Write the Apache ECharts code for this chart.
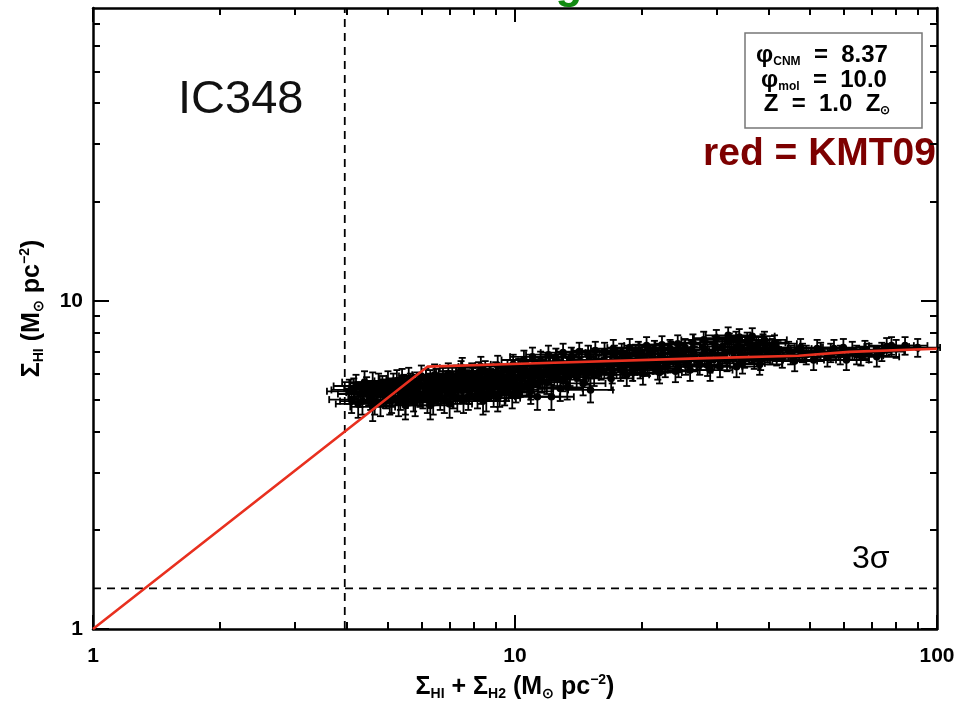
<!DOCTYPE html>
<html>
<head>
<meta charset="utf-8">
<script src="https://cdn.jsdelivr.net/npm/echarts@6/dist/echarts.min.js"></script>
<style>
html,body{margin:0;padding:0;background:#fff;}
#chart{width:960px;height:706px;}
</style>
</head>
<body>
<div id="chart"></div>
<script>
// ---------- data ----------
const X_MIN = 1, X_MAX = 100;
const Y_MIN = 1, Y_MAX = 78;
const X_MAJOR = [1, 10, 100];
const X_MINOR = [2, 3, 4, 5, 6, 7, 8, 9, 20, 30, 40, 50, 60, 70, 80, 90];
const Y_MAJOR = [1, 10];
const Y_MINOR = [2, 3, 4, 5, 6, 7, 8, 9, 20, 30, 40, 50, 60, 70];
const X_LABELS = [1, 10, 100];
const Y_LABELS = [1, 10];

// observed points (Σ_HI+Σ_H2, Σ_HI)
const scatterPoints = [
  [4.05,5.3],[4.1,5.0],[4.2,5.5],[4.3,5.2],[4.35,4.95],[4.45,5.4],[4.55,5.1],[4.6,5.6],[4.7,5.25],[4.8,4.9],
  [4.85,5.45],[4.95,5.15],[5.0,5.65],[5.05,4.95],[5.1,5.0],[5.2,5.35],[5.25,5.7],
  [5.35,5.1],[5.45,5.5],[5.5,4.95],[5.6,5.8],[5.7,5.3],[5.75,5.05],[5.85,5.6],[5.95,5.2],[6.0,5.9],
  [6.1,5.45],[6.2,5.0],[6.3,5.7],[6.35,5.25],[6.45,5.95],[6.55,5.5],[6.65,5.1],[6.75,5.8],[6.85,5.35],[6.95,6.0],
  [7.05,5.6],[7.15,5.15],[7.25,5.9],[7.35,5.4],[7.45,6.1],[7.55,5.0],[7.7,5.7],[7.8,5.3],[7.9,6.0],[8.0,5.55],
  [8.15,5.15],[8.25,5.85],[8.4,4.95],[8.5,6.1],[8.6,5.45],[8.75,5.75],[8.9,5.2],[9.0,6.05],[9.15,5.5],[9.2,5.2],
  [9.3,5.8],[9.45,5.25],[9.6,6.15],[9.75,5.6],[9.9,5.9],[10.05,5.35],[10.2,6.2],
  [10.4,5.8],[10.6,6.05],[10.8,5.6],[11.0,6.3],[11.2,5.9],[11.3,5.1],[11.4,6.15],[11.6,5.7],[11.8,6.4],[12.0,6.0],
  [12.2,5.1],[12.3,6.25],[12.6,5.85],[12.9,6.45],[13.2,6.1],[13.3,5.45],[13.5,5.95],[13.8,6.35],[14.1,6.15],[14.4,6.5],
  [14.8,6.0],[15.1,5.35],[15.2,6.3],[15.6,6.55],
  [16.0,6.2],[16.5,6.45],[17.0,6.05],[17.5,6.6],[18.0,6.3],[18.5,6.75],[19.0,6.15],[19.5,6.5],[20.0,6.85],[20.6,6.35],
  [21.2,6.65],[21.8,6.2],[22.4,6.9],[23.0,6.5],[23.7,6.75],[24.4,6.3],[25.1,6.95],[25.8,6.55],[26.6,6.8],
  [27.4,6.4],[28.2,7.1],[29.0,6.6],[29.8,7.35],[30.6,6.3],[31.4,6.9],[32.2,7.5],[33.0,6.7],[33.8,7.2],[34.6,6.45],
  [35.5,7.55],[36.4,6.95],[37.3,7.3],[38.2,6.6],[39.2,7.15],[40.2,6.85],[41.2,7.4],
  [43,6.7],[44.5,7.05],[46,6.55],[47.5,7.2],[49,6.85],[51,6.6],[53,7.0],[55,6.75],[57,7.15],[59,6.85],
  [61,6.6],[63,7.05],[66,6.8],[69,6.95],[72,6.75],[76,7.25],[80,7.15],[84,7.3],[90,7.2],
  // second layer
  [4.15,5.35],[4.25,4.85],[4.4,5.65],[4.5,5.25],[4.65,4.95],[4.75,5.55],[4.9,5.3],[5.15,5.55],[5.3,4.9],[5.4,5.75],
  [5.55,5.25],[5.65,5.55],[5.8,4.9],[5.9,5.45],[6.05,5.15],[6.15,5.75],[6.25,5.4],[6.4,4.95],[6.5,5.75],[6.6,5.3],
  [6.7,5.55],[6.8,5.0],[6.9,5.65],
  [7.0,5.25],[7.1,5.85],[7.2,5.45],[7.3,5.05],[7.4,5.7],[7.5,5.35],[7.6,5.85],[7.75,5.1],[7.85,5.5],[7.95,5.8],
  [8.1,5.4],[8.2,6.05],[8.3,5.3],[8.45,5.65],[8.55,5.05],[8.7,5.95],[8.8,5.4],[8.95,5.7],[9.1,5.05],[9.25,5.95],
  [9.4,5.6],[9.55,5.4],[9.7,5.95],[9.85,5.15],[10.0,5.7],[10.15,5.5],
  [10.3,5.55],[10.5,6.3],[10.7,5.9],[10.9,5.45],[11.1,6.1],[11.5,5.85],[11.7,6.05],[11.9,5.65],[12.1,6.35],[12.4,5.95],
  [12.7,6.15],[13.0,5.75],[13.4,6.25],[13.7,6.5],[14.0,5.85],[14.3,6.3],[14.6,6.1],[15.0,6.6],[15.4,5.95],[15.8,6.35],
  [16.2,6.6],[16.8,6.3],[17.2,6.85],[17.8,6.15],[18.2,6.55],[18.8,6.4],[19.3,6.9],[19.8,6.25],[20.3,6.6],[20.9,6.9],
  [21.5,6.45],[22.1,6.75],[22.7,6.3],[23.4,7.05],[24.0,6.55],[24.7,6.85],[25.4,6.4],[26.2,7.1],[26.9,6.6],
  [27.8,6.85],[28.6,6.35],[29.4,6.95],[30.2,6.7],[31.0,7.25],[31.8,6.55],[32.6,7.05],[33.4,7.6],[34.2,6.9],[35.0,6.7],
  [36.0,7.35],[36.9,6.65],[37.8,7.1],[38.7,7.45],[39.7,6.95],[40.7,7.2],[41.7,6.8],
  [42,7.1],[45,6.85],[48,6.95],[52,7.15],[56,6.95],[60,7.2],[64.5,6.85],[67.5,7.1],[74,7.0],[78,7.3],
  // third layer (blob edges)
  [7.5,6.25],[8.3,6.3],[9.1,6.35],[9.9,6.4],
  [4.6,4.75],[5.5,4.8],[6.3,4.8],[7.0,4.85],
  [10.5,6.6],[11.0,6.75],[11.5,6.55],[12.0,6.85],[12.5,6.7],[13.0,6.95],[13.6,6.75],[14.2,7.0],[14.9,6.85],[15.5,7.05],
  [10.9,5.3],[12.8,5.4],[14.5,5.6],
  [16.3,7.0],[17.1,7.15],[17.9,6.95],[18.7,7.2],[19.6,7.05],[20.5,7.3],[21.4,7.1],[22.3,7.35],[23.3,7.15],[24.3,7.4],
  [25.3,7.2],[26.4,7.45],
  [16.9,5.8],[18.4,5.95],[20.1,6.0],[22.0,6.05],[24.0,6.1],[26.0,6.15],
  [28.0,7.6],[30.0,7.7],[32.0,7.85],[34.0,7.75],[36.5,7.8],[39.0,7.6],[29.0,6.15],[33.5,6.3],[38.0,6.4]
];
const X_ERR_FACTOR = 1.13;   // multiplicative x uncertainty
const Y_ERR = 0.45;          // absolute y uncertainty

// KMT09 model curve
const modelX = [1, 6.2, 10.3, 28.5, 47, 62, 100];
const modelY = [1, 6.3, 6.43, 6.69, 6.8, 6.99, 7.14];

// thresholds
const vThreshX = 3.95;
const hThresh3Sigma = 1.33;

// ---------- chart ----------
const chart = echarts.init(document.getElementById('chart'), null, {renderer: 'canvas'});
const FONT = 'Liberation Sans, Arial, Helvetica, sans-serif';

function logAxis(pos, ticks, len, withLine, extra) {
  const isX = pos === 'bottom' || pos === 'top';
  return Object.assign({
    type: 'log', logBase: 10,
    min: isX ? X_MIN : Y_MIN, max: isX ? X_MAX : Y_MAX,
    position: pos,
    axisLine: {show: withLine, onZero: false, lineStyle: {color: '#000', width: 2.5}},
    axisTick: {show: true, inside: true, length: len, customValues: ticks, lineStyle: {color: '#000', width: 2}},
    axisLabel: {show: false},
    splitLine: {show: false},
    minorTick: {show: false}
  }, extra || {});
}

const subStyle = {fontSize: 14, fontWeight: 'bold', fontFamily: FONT, color: '#000', verticalAlign: 'bottom', lineHeight: 15};
const supStyle = {fontSize: 14, fontWeight: 'bold', fontFamily: FONT, color: '#000', verticalAlign: 'top', lineHeight: 15};
const mainStyle = {fontSize: 25, fontWeight: 'bold', fontFamily: FONT, color: '#000', lineHeight: 28};

const legendRich = {
  m: {fontSize: 24, fontWeight: 'bold', fontFamily: FONT, fill: '#000', lineHeight: 26},
  s: {fontSize: 12, fontWeight: 'bold', fontFamily: FONT, fill: '#000', verticalAlign: 'bottom', lineHeight: 12}
};

const option = {
  backgroundColor: '#fff',
  animation: false,
  grid: {left: 93, right: 23, top: 8, bottom: 75, containLabel: false},
  xAxis: [
    logAxis('bottom', X_MAJOR, 14, true, {
      axisLabel: {show: true, customValues: X_LABELS, margin: 17, fontSize: 21, fontWeight: 'bold', color: '#000', fontFamily: FONT},
      name: '{m|Σ}{s|HI}{m| + Σ}{s|H2}{m| (M}{s|⊙}{m| pc}{p|−2}{m|)}',
      nameLocation: 'middle', nameGap: 44,
      nameTextStyle: {rich: {m: mainStyle, s: subStyle, p: supStyle}}
    }),
    logAxis('bottom', X_MINOR, 7, false),
    logAxis('top', X_MAJOR, 14, true),
    logAxis('top', X_MINOR, 7, false)
  ],
  yAxis: [
    logAxis('left', Y_MAJOR, 16, true, {
      axisLabel: {show: true, customValues: Y_LABELS, margin: 10, fontSize: 21, fontWeight: 'bold', color: '#000', fontFamily: FONT},
      name: '{m|Σ}{s|HI}{m| (M}{s|⊙}{m| pc}{p|−2}{m|)}',
      nameLocation: 'middle', nameGap: 47, nameRotate: 90,
      nameTextStyle: {rich: {m: mainStyle, s: subStyle, p: supStyle}, padding: [0, 0, 0, 20]}
    }),
    logAxis('left', Y_MINOR, 7, false),
    logAxis('right', Y_MAJOR, 16, true),
    logAxis('right', Y_MINOR, 7, false)
  ],
  series: [
    {
      type: 'line', name: 'vthresh', xAxisIndex: 0, yAxisIndex: 0,
      data: [[vThreshX, Y_MIN], [vThreshX, Y_MAX]],
      showSymbol: false, symbol: 'none', silent: true,
      lineStyle: {color: '#000', width: 1.8, type: [8, 6]}, z: 3
    },
    {
      type: 'line', name: '3sigma', xAxisIndex: 0, yAxisIndex: 0,
      data: [[X_MIN, hThresh3Sigma], [X_MAX, hThresh3Sigma]],
      showSymbol: false, symbol: 'none', silent: true,
      lineStyle: {color: '#000', width: 1.8, type: [8, 6]}, z: 3
    },
    {
      type: 'custom', name: 'data', xAxisIndex: 0, yAxisIndex: 0,
      data: scatterPoints,
      encode: {x: 0, y: 1},
      z: 4,
      renderItem: function (params, api) {
        const x = api.value(0), y = api.value(1);
        const c = api.coord([x, y]);
        const xl = api.coord([x / X_ERR_FACTOR, y]);
        const xh = api.coord([x * X_ERR_FACTOR, y]);
        const yl = api.coord([x, y - Y_ERR]);
        const yh = api.coord([x, y + Y_ERR]);
        const cap = 3.5;
        const st = {stroke: '#000', lineWidth: 1.8};
        return {
          type: 'group',
          children: [
            {type: 'line', shape: {x1: xl[0], y1: c[1], x2: xh[0], y2: c[1]}, style: st},
            {type: 'line', shape: {x1: xl[0], y1: c[1] - cap, x2: xl[0], y2: c[1] + cap}, style: st},
            {type: 'line', shape: {x1: xh[0], y1: c[1] - cap, x2: xh[0], y2: c[1] + cap}, style: st},
            {type: 'line', shape: {x1: c[0], y1: yl[1], x2: c[0], y2: yh[1]}, style: st},
            {type: 'line', shape: {x1: c[0] - cap, y1: yl[1], x2: c[0] + cap, y2: yl[1]}, style: st},
            {type: 'line', shape: {x1: c[0] - cap, y1: yh[1], x2: c[0] + cap, y2: yh[1]}, style: st},
            {type: 'circle', shape: {cx: c[0], cy: c[1], r: 3.8}, style: {fill: '#000'}}
          ]
        };
      }
    },
    {
      type: 'line', name: 'KMT09', xAxisIndex: 0, yAxisIndex: 0,
      data: modelX.map((v, i) => [v, modelY[i]]),
      showSymbol: false, symbol: 'none', silent: true,
      lineStyle: {color: '#e8301f', width: 2.6}, z: 6
    }
  ],
  graphic: [
    {type: 'text', left: 178, top: 77, style: {text: 'IC348', fontSize: 47, fontFamily: FONT, fill: '#111'}},
    {type: 'text', x: 936, y: 135, style: {text: 'red = KMT09', fontSize: 39, fontWeight: 'bold', fontFamily: FONT, fill: '#7d0000', align: 'right', verticalAlign: 'top'}},
    {type: 'text', x: 852, y: 543, style: {text: '3σ', fontSize: 32, fontFamily: FONT, fill: '#000', verticalAlign: 'top'}},
    {type: 'text', x: 569, y: -14, style: {text: 'g', fontSize: 44, fontWeight: 'bold', fontFamily: FONT, fill: '#118a11', align: 'center', verticalAlign: 'middle'}},
    {type: 'rect', shape: {x: 745, y: 33, width: 177, height: 95}, style: {fill: '#fff', stroke: '#777', lineWidth: 1.5}, z: 100},
    {type: 'text', x: 822, y: 55, z: 101, style: {
      text: '{m|φ}{s|CNM}{m|  =  8.37}', align: 'center', verticalAlign: 'middle', rich: legendRich
    }},
    {type: 'text', x: 824, y: 80, z: 101, style: {
      text: '{m|φ}{s|mol}{m|  =  10.0}', align: 'center', verticalAlign: 'middle', rich: legendRich
    }},
    {type: 'text', x: 827, y: 104, z: 101, style: {
      text: '{m|Z  =  1.0  Z}{s|⊙}', align: 'center', verticalAlign: 'middle', rich: legendRich
    }}
  ]
};
chart.setOption(option);
</script>
</body>
</html>
